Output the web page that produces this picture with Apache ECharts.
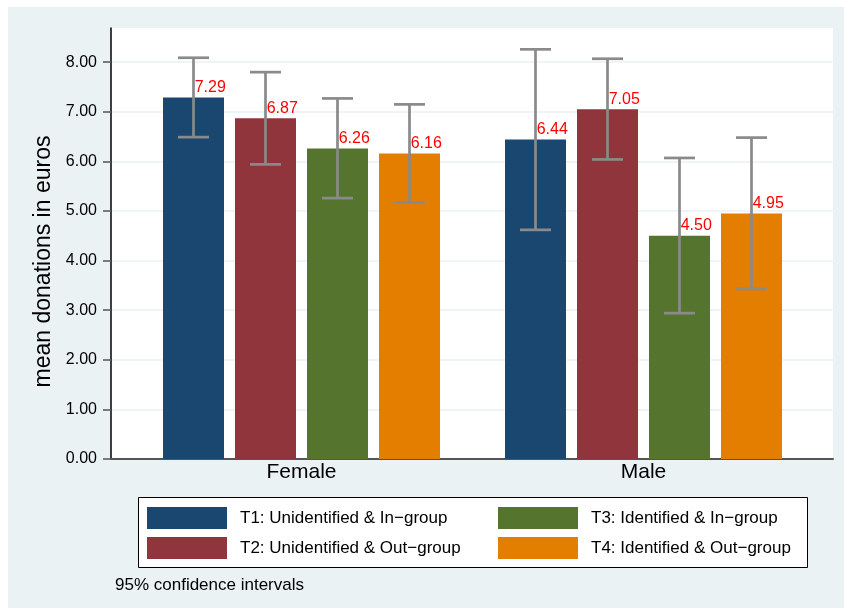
<!DOCTYPE html>
<html>
<head>
<meta charset="utf-8">
<script src="https://cdn.jsdelivr.net/npm/echarts@6/dist/echarts.min.js"></script>
<style>
  html, body { margin: 0; padding: 0; background: #ffffff; }
  #chart { width: 844px; height: 615px; }
</style>
</head>
<body>
<div id="chart"></div>
<script>
// Mean donations by gender and treatment, with 95% confidence intervals
const categories = ['Female', 'Male'];
const seriesNames = [
  'T1: Unidentified & In\u2212group',
  'T2: Unidentified & Out\u2212group',
  'T3: Identified & In\u2212group',
  'T4: Identified & Out\u2212group'
];
const t1Means = [7.29, 6.44];
const t2Means = [6.87, 7.05];
const t3Means = [6.26, 4.50];
const t4Means = [6.16, 4.95];
const t1Low = [6.49, 4.62], t1High = [8.09, 8.26];
const t2Low = [5.94, 6.04], t2High = [7.80, 8.07];
const t3Low = [5.26, 2.94], t3High = [7.27, 6.07];
const t4Low = [5.17, 3.43], t4High = [7.15, 6.48];
const yTicks = [0, 1, 2, 3, 4, 5, 6, 7, 8];

const means = [t1Means, t2Means, t3Means, t4Means];
const lows = [t1Low, t2Low, t3Low, t4Low];
const highs = [t1High, t2High, t3High, t4High];
const colors = ['#1a476f', '#90353b', '#55752f', '#e37e00'];

const BAR_W = 61;
const BAR_GAP = 11;
const CAP_HALF = 15.5;
const FONT = '"Liberation Sans", Arial, Helvetica, sans-serif';
const Y_MAX = 8.69;

const chart = echarts.init(document.getElementById('chart'), null, { renderer: 'canvas' });

const barSeries = means.map((vals, i) => ({
  name: seriesNames[i],
  type: 'bar',
  xAxisIndex: 1,
  yAxisIndex: 1,
  data: vals,
  barWidth: BAR_W,
  barGap: (BAR_GAP / BAR_W * 100) + '%',
  itemStyle: { color: colors[i] },
  label: {
    show: true,
    position: ['52%', -2],
    align: 'left',
    verticalAlign: 'bottom',
    color: '#ff0000',
    fontFamily: FONT,
    fontSize: 16,
    formatter: p => p.value.toFixed(2)
  },
  z: 2
}));

const errSeries = means.map((vals, i) => ({
  name: 'ci' + i,
  type: 'custom',
  xAxisIndex: 1,
  yAxisIndex: 1,
  data: categories.map((c, k) => [k, lows[i][k], highs[i][k]]),
  z: 5,
  silent: true,
  renderItem: function (params, api) {
    const k = api.value(0);
    const lo = api.coord([k, api.value(1)]);
    const hi = api.coord([k, api.value(2)]);
    const x = lo[0] + (i - 1.5) * (BAR_W + BAR_GAP);
    const style = { stroke: '#8a8a8a', lineWidth: 2.7, fill: null };
    return {
      type: 'group',
      children: [
        { type: 'line', shape: { x1: x, y1: lo[1], x2: x, y2: hi[1] }, style },
        { type: 'line', shape: { x1: x - CAP_HALF, y1: lo[1], x2: x + CAP_HALF, y2: lo[1] }, style },
        { type: 'line', shape: { x1: x - CAP_HALF, y1: hi[1], x2: x + CAP_HALF, y2: hi[1] }, style }
      ]
    };
  }
}));

const option = {
  backgroundColor: '#eaf2f3',
  animation: false,
  textStyle: { fontFamily: FONT },
  title: {
    text: '95% confidence intervals',
    left: 115,
    top: 577,
    padding: 0,
    textStyle: { fontFamily: FONT, fontSize: 17, fontWeight: 'normal', color: '#000' }
  },
  graphic: [
    { type: 'rect', left: 0, top: 0, shape: { width: 844, height: 7 }, style: { fill: '#ffffff' }, z: 100 },
    { type: 'rect', left: 0, top: 0, shape: { width: 8, height: 615 }, style: { fill: '#ffffff' }, z: 100 },
    { type: 'rect', left: 0, top: 608, shape: { width: 844, height: 7 }, style: { fill: '#ffffff' }, z: 100 },
    { type: 'rect', left: 138, top: 497, shape: { width: 669, height: 70 },
      style: { fill: '#ffffff', stroke: '#000000', lineWidth: 1 }, z: 0 }
  ],
  legend: [
    {
      data: [seriesNames[0], seriesNames[1]],
      orient: 'vertical', left: 147, top: 507, padding: 0,
      itemWidth: 80, itemHeight: 22, itemGap: 8, icon: 'rect',
      selectedMode: false,
      textStyle: { fontFamily: FONT, fontSize: 17, color: '#000', padding: [0, 0, 0, 8] }
    },
    {
      data: [seriesNames[2], seriesNames[3]],
      orient: 'vertical', left: 498, top: 507, padding: 0,
      itemWidth: 80, itemHeight: 22, itemGap: 8, icon: 'rect',
      selectedMode: false,
      textStyle: { fontFamily: FONT, fontSize: 17, color: '#000', padding: [0, 0, 0, 8] }
    }
  ],
  grid: [
    { left: 111, right: 11, top: 28, bottom: 156, show: true, backgroundColor: '#ffffff', borderWidth: 0 },
    { left: 130.5, right: 844 - 814.5, top: 28, bottom: 156 }
  ],
  xAxis: [
    {
      type: 'value', gridIndex: 0, min: 0, max: 1,
      axisLine: { show: true, onZero: false, lineStyle: { color: '#555555', width: 2 } },
      axisTick: { show: false }, axisLabel: { show: false }, splitLine: { show: false }
    },
    {
      type: 'category', gridIndex: 1, data: categories,
      axisLine: { show: false }, axisTick: { show: false },
      axisLabel: { color: '#000', fontFamily: FONT, fontSize: 21, margin: 3 }
    }
  ],
  yAxis: [
    {
      type: 'value', gridIndex: 0, min: 0, max: Y_MAX,
      name: 'mean donations in euros',
      nameLocation: 'middle',
      nameGap: 52,
      nameTextStyle: { fontFamily: FONT, fontSize: 23, color: '#000', padding: [0, 0, 0, -36] },
      axisLine: { show: true, lineStyle: { color: '#000000', width: 1.5 } },
      axisTick: { show: true, length: 8, lineStyle: { color: '#555555', width: 1.5 }, customValues: yTicks },
      axisLabel: {
        color: '#000', fontFamily: FONT, fontSize: 16, margin: 14,
        customValues: yTicks,
        formatter: v => (Number.isInteger(v) ? v.toFixed(2) : '')
      },
      splitLine: { show: true, lineStyle: { color: '#eaf2f3', width: 1.5 } }
    },
    {
      type: 'value', gridIndex: 1, min: 0, max: Y_MAX, show: false,
      splitLine: { show: false }
    }
  ],
  series: [...barSeries, ...errSeries]
};

chart.setOption(option);
</script>
</body>
</html>
